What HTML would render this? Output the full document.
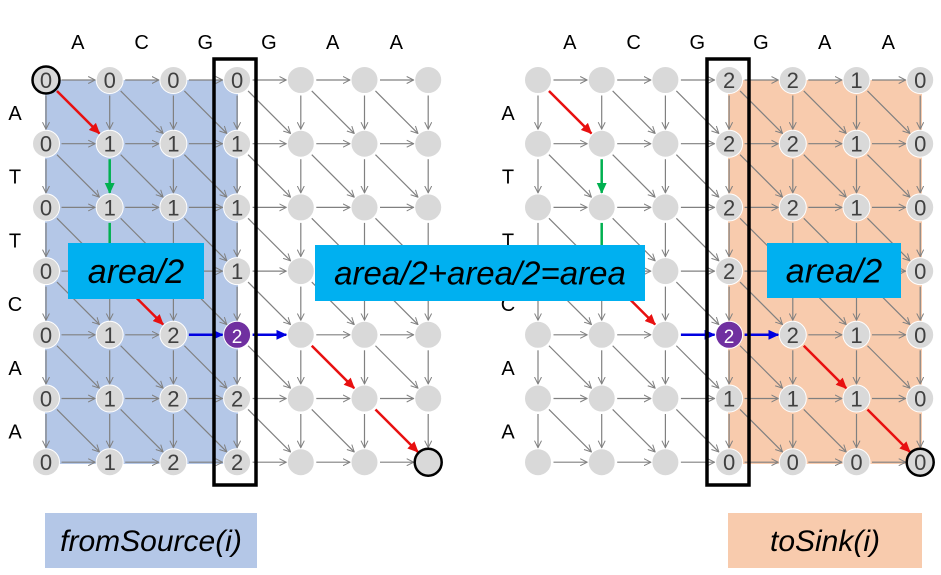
<!DOCTYPE html>
<html><head><meta charset="utf-8"><style>
body{margin:0;background:#fff;width:941px;height:575px;overflow:hidden}
svg{display:block}
text{font-family:"Liberation Sans",sans-serif}
</style></head><body>
<svg id="s" width="941" height="575" viewBox="0 0 941 575">
<defs>
<marker id="ag" markerWidth="8" markerHeight="8" refX="7" refY="4" orient="auto" markerUnits="userSpaceOnUse"><path d="M0,0.5 L7,4 L0,7.5" fill="none" stroke="#808080" stroke-width="1"/></marker>
<marker id="ar" markerWidth="12" markerHeight="10" refX="10" refY="5" orient="auto" markerUnits="userSpaceOnUse"><path d="M0,0 L11,5 L0,10z" fill="#e81010"/></marker>
<marker id="agr" markerWidth="12" markerHeight="10" refX="10" refY="5" orient="auto" markerUnits="userSpaceOnUse"><path d="M0,0 L11,5 L0,10z" fill="#00b050"/></marker>
<marker id="ab" markerWidth="12" markerHeight="10" refX="10" refY="5" orient="auto" markerUnits="userSpaceOnUse"><path d="M0,0 L11,5 L0,10z" fill="#0000e0"/></marker>
</defs>
<g id="bg"></g>
<g id="edges"></g>
<g id="nodes"></g>
<g id="over"></g>
</svg>
<script>
const topLetters=["A","C","G","G","A","A"];
const sideLetters=["A","T","T","C","A","A"];
const leftVals=[
["0","0","0","0","","",""],
["0","1","1","1","","",""],
["0","1","1","1","","",""],
["0","","","1","","",""],
["0","1","2","2","","",""],
["0","1","2","2","","",""],
["0","1","2","2","","",""]];
const rightVals=[
["","","","2","2","1","0"],
["","","","2","2","1","0"],
["","","","2","2","1","0"],
["","","","2","2","1","0"],
["","","","2","2","1","0"],
["","","","1","1","1","0"],
["","","","0","0","0","0"]];
const pathNodes=[[0,0],[1,1],[2,1],[3,1],[4,2],[4,3],[4,4],[5,5],[6,6]];
const NS="http://www.w3.org/2000/svg";
function mk(tag,attrs,parent){const e=document.createElementNS(NS,tag);for(const k in attrs)e.setAttribute(k,attrs[k]);parent.appendChild(e);return e;}
const rowY=r=>80+r*63.7;
const grids=[{x0:46,dx:63.7,vals:leftVals,name:'left',sideX:15},{x0:538,dx:63.7,vals:rightVals,name:'right',sideX:508}];
const bg=document.getElementById('bg'),E=document.getElementById('edges'),N=document.getElementById('nodes'),O=document.getElementById('over');
let r;
r=mk('rect',{x:45,y:80,width:193,height:384,fill:'#b4c7e7'},bg);


r=mk('rect',{x:728,y:80,width:194,height:384,fill:'#f8cbad'},bg);


const R=13.5;
grids.forEach(g=>{
 const cx=c=>g.x0+c*g.dx;
 topLetters.forEach((l,i)=>{const t=mk('text',{x:cx(i)+g.dx/2,y:49,'font-size':20,'text-anchor':'middle',fill:'#000'},O);t.textContent=l;
  
  });
 sideLetters.forEach((l,i)=>{const t=mk('text',{x:g.sideX,y:rowY(i)+40,'font-size':20,'text-anchor':'middle',fill:'#000'},O);t.textContent=l;
  
  });
 const inPath=(a,b)=>{for(let k=0;k<pathNodes.length-1;k++){if(pathNodes[k][0]==a[0]&&pathNodes[k][1]==a[1]&&pathNodes[k+1][0]==b[0]&&pathNodes[k+1][1]==b[1])return true;}return false;};
 function edge(a,b){
  const x1=cx(a[1]),y1=rowY(a[0]),x2=cx(b[1]),y2=rowY(b[0]);
  const L=Math.hypot(x2-x1,y2-y1),ux=(x2-x1)/L,uy=(y2-y1)/L;
  let col='#808080',m='ag',w=1.2;
  if(inPath(a,b)){w=2.5;if(a[0]==b[0]){col='#0000e0';m='ab';}else if(a[1]==b[1]){col='#00b050';m='agr';}else{col='#e81010';m='ar';}}
  const l=mk('line',{x1:x1+ux*(R+2),y1:y1+uy*(R+2),x2:x2-ux*(R+1),y2:y2-uy*(R+1),stroke:col,'stroke-width':w,'marker-end':`url(#${m})`},E);
  
  
 }
 for(let i=0;i<7;i++)for(let j=0;j<7;j++){
  if(j<6)edge([i,j],[i,j+1]);
  if(i<6)edge([i,j],[i+1,j]);
  if(i<6&&j<6)edge([i,j],[i+1,j+1]);
 }
 for(let i=0;i<7;i++)for(let j=0;j<7;j++){
  const mid=(i==4&&j==3);
  const c=mk('circle',{cx:cx(j),cy:rowY(i),r:R,fill:mid?'#7030a0':'#d9d9d9',stroke:'#fff','stroke-width':1},N);
  
  
  if((g.name=='left'&&i==0&&j==0)||(i==6&&j==6)){c.setAttribute('stroke','#000');c.setAttribute('stroke-width',2.5);}
  const v=g.vals[i][j];
  if(v!==''){const t=mk('text',{x:cx(j),y:rowY(i)+8,'font-size':mid?19:22,'text-anchor':'middle',fill:mid?'#fff':'#404040'},N);t.textContent=v;
   
   }
 }
});
function box(x,y,w,h,fill,txt,fs,name){
 const rr=mk('rect',{x:x,y:y,width:w,height:h,fill:fill},O);
 
 
 const t=mk('text',{x:x+w/2,y:y+h/2+fs*0.35,'font-size':fs,'font-style':'italic','text-anchor':'middle',fill:'#000'},O);t.textContent=txt;
 
 
}
[[214,59],[707,59]].forEach(p=>{const b=mk('rect',{x:p[0],y:p[1],width:42,height:426,fill:'none',stroke:'#000','stroke-width':3.5},O);
 
 });
box(68,243,136,56,'#00b0f0','area/2',34,'left-area-label');
box(315,245,330,56,'#00b0f0','area/2+area/2=area',33,'center-area-label');
box(767,243,134,55,'#00b0f0','area/2',34,'right-area-label');
box(45,513,212,55,'#b4c7e7','fromSource(i)',30,'from-source-label');
box(728,513,194,55,'#f8cbad','toSink(i)',30,'to-sink-label');
</script>
</body></html>
